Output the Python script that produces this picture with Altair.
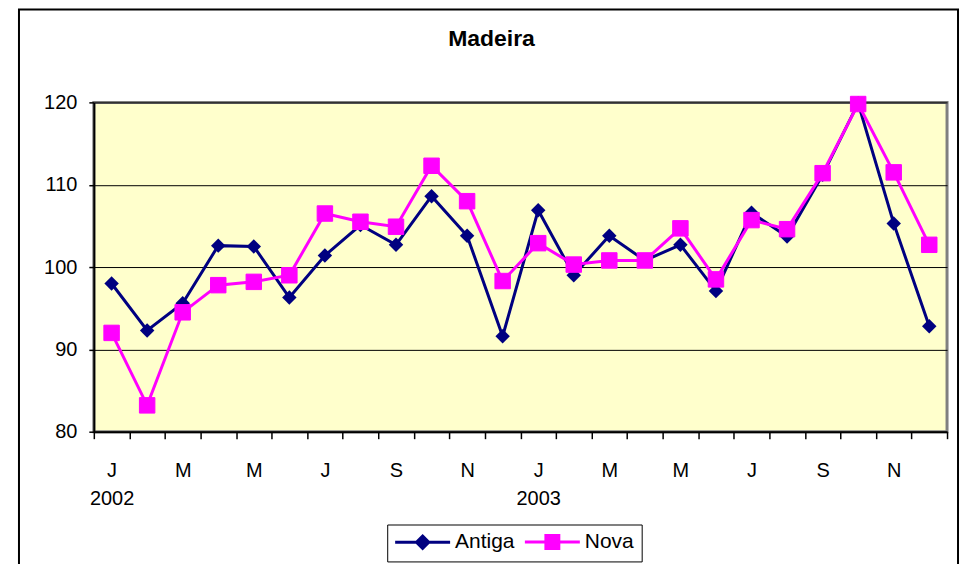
import json
import altair as alt
import pandas as pd

# ---- data ----
categories = ["2002-01", "2002-02", "2002-03", "2002-04", "2002-05", "2002-06",
              "2002-07", "2002-08", "2002-09", "2002-10", "2002-11", "2002-12",
              "2003-01", "2003-02", "2003-03", "2003-04", "2003-05", "2003-06",
              "2003-07", "2003-08", "2003-09", "2003-10", "2003-11", "2003-12"]
month_labels = ["J", "", "M", "", "M", "", "J", "", "S", "", "N", "",
                "J", "", "M", "", "M", "", "J", "", "S", "", "N", ""]
year_labels = ["2002", "", "", "", "", "", "", "", "", "", "", "",
               "2003", "", "", "", "", "", "", "", "", "", "", ""]
antiga = [98.0, 92.3, 95.6, 102.6, 102.5, 96.3, 101.4, 105.1, 102.7, 108.6, 103.8, 91.6,
          106.9, 99.0, 103.8, 100.8, 102.7, 97.1, 106.6, 103.7, 111.2, 119.9, 105.3, 92.8]
nova = [92.0, 83.2, 94.5, 97.8, 98.2, 99.0, 106.5, 105.5, 104.9, 112.3, 108.0, 98.3,
        102.9, 100.3, 100.8, 100.8, 104.7, 98.5, 105.7, 104.6, 111.4, 119.8, 111.5, 102.7]
series = ["Antiga", "Nova"]
colors = ["#000080", "#FF00FF"]
title_text = "Madeira"

df_a = pd.DataFrame({"month": categories, "value": antiga, "series": "Antiga"})
df_n = pd.DataFrame({"month": categories, "value": nova, "series": "Nova"})
df_leg = pd.DataFrame({"month": [categories[0]] * 2, "value": [0, 0], "series": series})

FONT = "Arial"

# labels: array -> multi-line (month over year)
lab_arr = []
for m, yv in zip(month_labels, year_labels):
    lab_arr.append([m, yv] if yv else m)
label_expr = f"{json.dumps(lab_arr)}[indexof({json.dumps(categories)}, datum.value)]"

x_enc = alt.X(
    "month:O",
    sort=categories,
    scale=alt.Scale(type="band", domain=categories, paddingInner=0, paddingOuter=0),
    axis=alt.Axis(
        title=None, labelExpr=label_expr, labelAngle=0, labelOverlap=False,
        labelBound=False, labelFont=FONT, labelFontSize=20, labelColor="black",
        labelLineHeight=28, labelPadding=22, labelBaseline="top",
        tickBand="extent", tickSize=7, tickColor="black", tickWidth=1.5,
        domainColor="black", domainWidth=2, grid=False,
    ),
)
y_enc = alt.Y(
    "value:Q",
    scale=alt.Scale(domain=[80, 120], nice=False, zero=False),
    axis=alt.Axis(
        title=None, values=[80, 90, 100, 110, 120], labelFont=FONT, labelFontSize=20,
        labelColor="black", labelPadding=12, tickSize=5, tickColor="black",
        tickWidth=1.5, domainColor="black", domainWidth=2, grid=True,
        gridColor="black", gridWidth=1, gridOpacity=1,
    ),
)

frame = alt.Chart(pd.DataFrame({"f": [0]})).mark_rect(
    fill="transparent", stroke="black", strokeWidth=2
).encode(x=alt.value(-75), x2=alt.value(866), y=alt.value(-93), y2=alt.value(700))

line_a = alt.Chart(df_a).mark_line(color=colors[0], strokeWidth=3).encode(x=x_enc, y=y_enc)
pts_a = alt.Chart(df_a).mark_point(shape="diamond", filled=True, size=210, color=colors[0],
                                   opacity=1).encode(x=x_enc, y=y_enc)
line_n = alt.Chart(df_n).mark_line(color=colors[1], strokeWidth=3).encode(x=x_enc, y=y_enc)
pts_n = alt.Chart(df_n).mark_point(shape="square", filled=True, size=240, color=colors[1],
                                   stroke=colors[1], strokeWidth=1, opacity=1).encode(x=x_enc, y=y_enc)

diamond_path = "M-3.06,0L3.06,0M0,-0.68L0.68,0L0,0.68L-0.68,0Z"
square_path = "M-3.06,0L3.06,0M-0.72,-0.72L0.72,-0.72L0.72,0.72L-0.72,0.72Z"
leg = alt.Legend(
    title=None, orient="none", legendX=294, legendY=423, direction="horizontal",
    strokeColor="black", fillColor="white", padding=7, symbolSize=324,
    symbolStrokeWidth=3, symbolOffset=18, labelOffset=22, labelFont=FONT,
    labelFontSize=21, labelColor="black", columnPadding=3, symbolOpacity=1,
)
legend_layer = alt.Chart(df_leg).mark_point(filled=True, clip=True, size=324, strokeWidth=3,
                                            opacity=1).encode(
    x=x_enc, y=y_enc,
    fill=alt.Fill("series:N", scale=alt.Scale(domain=series, range=colors), legend=leg),
    stroke=alt.Stroke("series:N", scale=alt.Scale(domain=series, range=colors), legend=leg),
    shape=alt.Shape("series:N", scale=alt.Scale(domain=series, range=[diamond_path, square_path]),
                    legend=leg),
)

chart = alt.layer(frame, line_a, pts_a, line_n, pts_n, legend_layer).properties(
    width=855, height=330,
    title=alt.TitleParams(title_text, font=FONT, fontSize=23, fontWeight="bold", color="black",
                          anchor="middle", dx=-29, offset=-60, baseline="alphabetic"),
    autosize=alt.AutoSizeParams(type="none"),
    padding={"left": 86, "top": 94, "right": 18, "bottom": 132},
    background="white",
).configure_view(
    fill="#FFFFCC", stroke="#808080", strokeWidth=3
)

chart.save("out.html", embed_options={"renderer": "svg", "actions": False})
